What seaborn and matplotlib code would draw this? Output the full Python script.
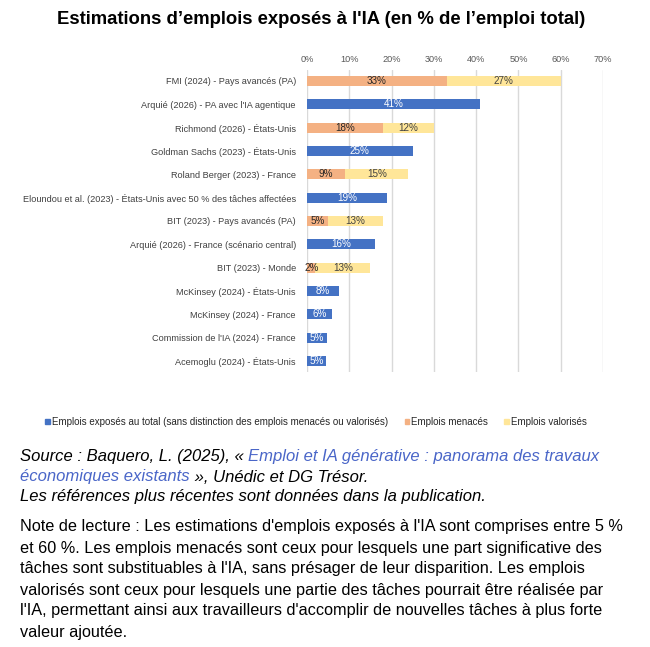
import matplotlib
matplotlib.use("Agg")
import matplotlib.pyplot as plt
from matplotlib import font_manager
from matplotlib.patches import Patch
import seaborn as sns
import pandas as pd
import numpy as np

categories = [
    "FMI (2024) - Pays avancés (PA)",
    "Arquié (2026) - PA avec l'IA agentique",
    "Richmond (2026) - États-Unis",
    "Goldman Sachs (2023) - États-Unis",
    "Roland Berger (2023) - France",
    "Eloundou et al. (2023) - États-Unis avec 50 % des tâches affectées",
    "BIT (2023) - Pays avancés (PA)",
    "Arquié (2026) - France (scénario central)",
    "BIT (2023) - Monde",
    "McKinsey (2024) - États-Unis",
    "McKinsey (2024) - France",
    "Commission de l'IA (2024) - France",
    "Acemoglu (2024) - États-Unis",
]
total = [0, 41, 0, 25, 0, 19, 0, 16, 0, 7.6, 5.9, 4.7, 4.6]
menaces = [33, 0, 18, 0, 9, 0, 5, 0, 2, 0, 0, 0, 0]
valorises = [27, 0, 12, 0, 15, 0, 13, 0, 13, 0, 0, 0, 0]
xticks = [0, 10, 20, 30, 40, 50, 60, 70]

BLUE = "#4472C4"
ORANGE = "#F4B183"
YELLOW = "#FFE699"

sns.set_theme(style="white")

def has_font(name):
    try:
        font_manager.findfont(font_manager.FontProperties(family=name), fallback_to_default=False)
        return True
    except Exception:
        return False

NARROW = "Liberation Sans Narrow" if has_font("Liberation Sans Narrow") else "Liberation Sans"
narrow_scale = 1.0 if NARROW == "Liberation Sans Narrow" else 0.87
plt.rcParams["font.family"] = ["Liberation Sans", "DejaVu Sans"]

df = pd.DataFrame({"cat": categories, "total": total, "men": menaces, "val": valorises})
df["stack"] = df["men"] + df["val"]

W, H = 650, 647
fig = plt.figure(figsize=(W / 100, H / 100), dpi=100)
ax = fig.add_axes([307 / W, 1 - 372 / H, (603 - 307) / W, (372 - 70) / H])

bw = 0.43
sns.barplot(data=df, x="total", y="cat", order=categories, color=BLUE, width=bw,
            ax=ax, saturation=1, orient="h", linewidth=0)
sns.barplot(data=df, x="stack", y="cat", order=categories, color=YELLOW, width=bw,
            ax=ax, saturation=1, orient="h", linewidth=0)
sns.barplot(data=df, x="men", y="cat", order=categories, color=ORANGE, width=bw,
            ax=ax, saturation=1, orient="h", linewidth=0)

ax.set_xlim(0, 70)
ax.set_ylim(12.47, -0.47)
ax.set_xticks(xticks)
ax.set_xticklabels([f"{t}%" for t in xticks])
ax.xaxis.tick_top()
ax.tick_params(axis="x", length=0, pad=4.5, labelsize=7.6 * narrow_scale, labelcolor="#595959")
ax.tick_params(axis="y", length=0, pad=8, labelsize=7.6 * narrow_scale, labelcolor="#404040")
for lab in ax.get_xticklabels() + ax.get_yticklabels():
    lab.set_fontfamily(NARROW)
ax.set_xlabel("")
ax.set_ylabel("")
ax.grid(axis="x", color="#D9D9D9", linewidth=1)
ax.set_axisbelow(True)
for s in ax.spines.values():
    s.set_visible(False)

lab_fs = 8.2 * narrow_scale
for i, row in df.iterrows():
    if row["total"] > 0:
        ax.text(row["total"] / 2, i, f"{row['total']:.0f}%", ha="center", va="center",
                color="white", fontsize=lab_fs, family=NARROW)
    if row["men"] > 0:
        ax.text(row["men"] / 2, i, f"{row['men']:.0f}%", ha="center", va="center",
                color="#262626", fontsize=lab_fs, family=NARROW)
    if row["val"] > 0:
        ax.text(row["men"] + row["val"] / 2, i, f"{row['val']:.0f}%", ha="center", va="center",
                color="#404040", fontsize=lab_fs, family=NARROW)

# Title
fig.text(321 / W, 1 - 19 / H, "Estimations d\u2019emplois exposés à l'IA (en % de l\u2019emploi total)",
         ha="center", va="center", fontsize=13.3, fontweight="bold", color="black")

# Legend
handles = [Patch(color=BLUE), Patch(color=ORANGE), Patch(color=YELLOW)]
labels = ["Emplois exposés au total (sans distinction des emplois menacés ou valorisés)",
          "Emplois menacés", "Emplois valorisés"]
leg = fig.legend(handles, labels, loc="center", bbox_to_anchor=(316 / W, 1 - 422 / H), ncol=3,
                 frameon=False, handlelength=0.45, handleheight=0.45, handletextpad=0.2,
                 columnspacing=1.7, prop={"family": NARROW, "size": 8.1 * narrow_scale})

# Source lines with coloured segments
fig.canvas.draw()
renderer = fig.canvas.get_renderer()
LINK = "#4A66C8"
FS_SRC = 12.0
FS_NOTE = 11.7

def seg_line(x0, y, segs, style="italic"):
    x = x0
    for txt, col in segs:
        t = fig.text(x / W, 1 - y / H, txt, ha="left", va="center", fontsize=FS_SRC,
                     style=style, color=col)
        bb = t.get_window_extent(renderer=renderer)
        x = x + bb.width

seg_line(20, 457, [("Source : Baquero, L. (2025), « ", "black"),
                   ("Emploi et IA générative : panorama des travaux", LINK)])
seg_line(20, 477, [("économiques existants", LINK), (" », Unédic et DG Trésor.", "black")])
seg_line(20, 497, [("Les références plus récentes sont données dans la publication.", "black")])

note_lines = [
    "Note de lecture : Les estimations d'emplois exposés à l'IA sont comprises entre 5 %",
    "et 60 %. Les emplois menacés sont ceux pour lesquels une part significative des",
    "tâches sont substituables à l'IA, sans présager de leur disparition. Les emplois",
    "valorisés sont ceux pour lesquels une partie des tâches pourrait être réalisée par",
    "l'IA, permettant ainsi aux travailleurs d'accomplir de nouvelles tâches à plus forte",
    "valeur ajoutée.",
]
for k, line in enumerate(note_lines):
    fig.text(20 / W, 1 - (527 + 21 * k) / H, line, ha="left", va="center", fontsize=FS_NOTE,
             color="black")

fig.savefig("out.png", dpi=100, facecolor="white")
